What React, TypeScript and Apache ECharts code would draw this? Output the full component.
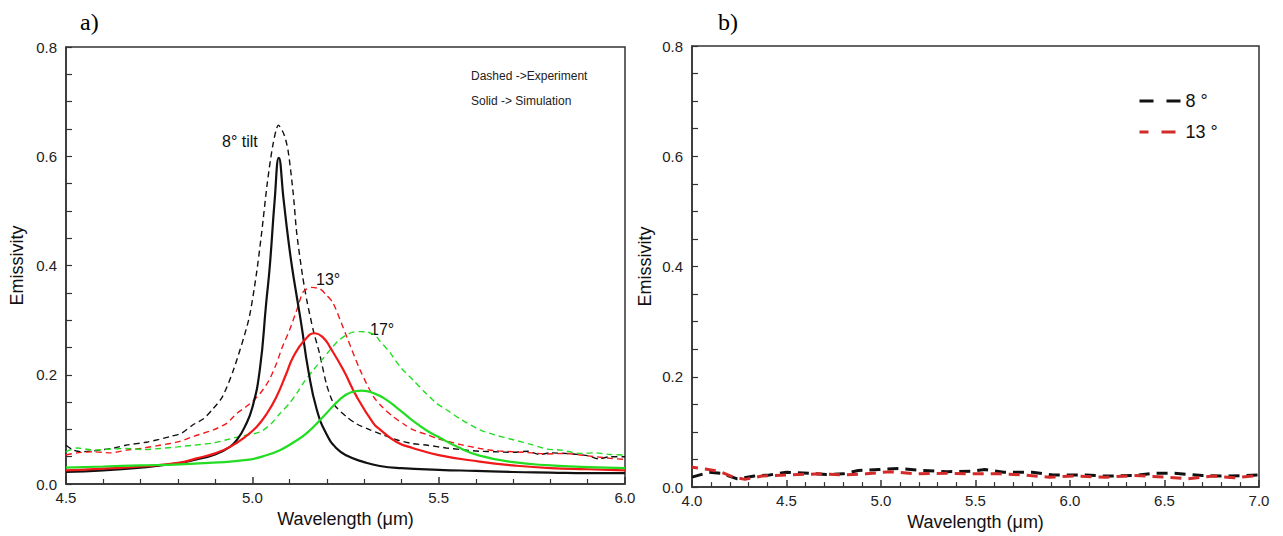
import React, { useEffect, useRef } from "react";
import * as echarts from "echarts";

// ---- Panel a) data (wavelength µm, emissivity) ----
const sim8X = [4.5, 4.6, 4.7, 4.8, 4.85, 4.9, 4.94, 4.96, 4.98, 5.0, 5.02, 5.037, 5.047, 5.06, 5.071, 5.084, 5.096, 5.107, 5.12, 5.132, 5.15, 5.173, 5.2, 5.225, 5.253, 5.3, 5.342, 5.4, 5.5, 5.6, 5.7, 5.8, 5.9, 6.0];
const sim8Y = [0.022, 0.025, 0.03, 0.038, 0.045, 0.054, 0.068, 0.082, 0.105, 0.14, 0.209, 0.33, 0.4, 0.52, 0.597, 0.52, 0.45, 0.395, 0.34, 0.29, 0.209, 0.136, 0.09, 0.066, 0.052, 0.04, 0.033, 0.029, 0.026, 0.024, 0.022, 0.021, 0.02, 0.02];

const sim13X = [4.5, 4.6, 4.7, 4.806, 4.85, 4.9, 4.94, 4.98, 5.012, 5.04, 5.065, 5.09, 5.11, 5.14, 5.168, 5.19, 5.208, 5.244, 5.28, 5.325, 5.342, 5.387, 5.43, 5.5, 5.61, 5.7, 5.8, 5.9, 6.0];
const sim13Y = [0.025, 0.028, 0.032, 0.039, 0.047, 0.056, 0.068, 0.086, 0.105, 0.13, 0.16, 0.2, 0.233, 0.263, 0.276, 0.268, 0.251, 0.209, 0.16, 0.111, 0.1, 0.077, 0.066, 0.053, 0.041, 0.034, 0.029, 0.027, 0.025];

const sim17X = [4.5, 4.6, 4.7, 4.806, 4.895, 4.985, 5.03, 5.074, 5.11, 5.146, 5.19, 5.235, 5.265, 5.293, 5.33, 5.36, 5.4, 5.432, 5.47, 5.5, 5.55, 5.61, 5.7, 5.8, 5.9, 6.0];
const sim17Y = [0.03, 0.032, 0.034, 0.036, 0.039, 0.044, 0.051, 0.062, 0.076, 0.093, 0.123, 0.155, 0.168, 0.171, 0.165, 0.154, 0.133, 0.115, 0.097, 0.086, 0.068, 0.052, 0.04, 0.034, 0.031, 0.029];

const exp8X = [4.5, 4.52, 4.54, 4.59, 4.63, 4.66, 4.72, 4.78, 4.81, 4.84, 4.87, 4.895, 4.92, 4.95, 4.99, 5.01, 5.025, 5.04, 5.055, 5.07, 5.085, 5.096, 5.11, 5.119, 5.135, 5.146, 5.164, 5.18, 5.2, 5.22, 5.253, 5.28, 5.316, 5.35, 5.387, 5.43, 5.47, 5.52, 5.56, 5.61, 5.65, 5.7, 5.74, 5.77, 5.8, 5.86, 5.9, 5.93, 5.96, 6.0];
const exp8Y = [0.071, 0.062, 0.059, 0.062, 0.066, 0.071, 0.077, 0.087, 0.093, 0.108, 0.12, 0.138, 0.16, 0.21, 0.3, 0.38, 0.46, 0.55, 0.62, 0.657, 0.64, 0.61, 0.53, 0.46, 0.38, 0.337, 0.28, 0.24, 0.18, 0.145, 0.123, 0.11, 0.099, 0.09, 0.081, 0.074, 0.071, 0.066, 0.063, 0.06, 0.059, 0.058, 0.06, 0.054, 0.057, 0.055, 0.052, 0.046, 0.05, 0.05];

const exp13X = [4.5, 4.53, 4.573, 4.62, 4.663, 4.71, 4.752, 4.8, 4.842, 4.895, 4.931, 4.958, 4.99, 5.02, 5.045, 5.065, 5.08, 5.1, 5.12, 5.137, 5.16, 5.182, 5.2, 5.217, 5.253, 5.289, 5.325, 5.35, 5.378, 5.41, 5.432, 5.47, 5.494, 5.521, 5.56, 5.611, 5.65, 5.7, 5.75, 5.79, 5.84, 5.88, 5.92, 5.96, 6.0];
const exp13Y = [0.053, 0.057, 0.059, 0.057, 0.062, 0.066, 0.071, 0.077, 0.087, 0.099, 0.111, 0.129, 0.145, 0.165, 0.19, 0.221, 0.25, 0.282, 0.32, 0.352, 0.36, 0.357, 0.345, 0.331, 0.27, 0.209, 0.16, 0.14, 0.123, 0.108, 0.099, 0.09, 0.084, 0.079, 0.072, 0.065, 0.061, 0.059, 0.057, 0.055, 0.056, 0.053, 0.05, 0.047, 0.045];

const exp17X = [4.5, 4.53, 4.573, 4.62, 4.663, 4.71, 4.752, 4.8, 4.842, 4.895, 4.931, 4.967, 5.02, 5.05, 5.074, 5.1, 5.119, 5.14, 5.164, 5.19, 5.208, 5.23, 5.253, 5.27, 5.289, 5.31, 5.33, 5.342, 5.37, 5.396, 5.432, 5.46, 5.494, 5.521, 5.56, 5.611, 5.65, 5.7, 5.75, 5.79, 5.83, 5.88, 5.92, 5.96, 6.0];
const exp17Y = [0.059, 0.066, 0.062, 0.064, 0.065, 0.063, 0.065, 0.068, 0.071, 0.075, 0.081, 0.087, 0.095, 0.11, 0.129, 0.148, 0.166, 0.188, 0.209, 0.23, 0.245, 0.262, 0.273, 0.278, 0.279, 0.278, 0.272, 0.262, 0.24, 0.215, 0.19, 0.17, 0.148, 0.136, 0.118, 0.099, 0.09, 0.081, 0.072, 0.064, 0.062, 0.056, 0.057, 0.054, 0.053];

// ---- Panel b) data ----
const b8X = [4.0, 4.09, 4.15, 4.24, 4.33, 4.41, 4.5, 4.62, 4.71, 4.8, 4.88, 4.99, 5.1, 5.22, 5.35, 5.48, 5.55, 5.65, 5.8, 5.91, 6.08, 6.19, 6.34, 6.44, 6.55, 6.7, 6.83, 7.0];
const b8Y = [0.018, 0.027, 0.025, 0.015, 0.02, 0.022, 0.027, 0.025, 0.023, 0.024, 0.03, 0.032, 0.034, 0.03, 0.028, 0.029, 0.032, 0.027, 0.027, 0.022, 0.022, 0.02, 0.021, 0.025, 0.025, 0.021, 0.02, 0.022];
const b13X = [4.0, 4.07, 4.15, 4.22, 4.28, 4.37, 4.5, 4.67, 4.8, 4.92, 5.05, 5.18, 5.35, 5.48, 5.63, 5.76, 5.89, 6.02, 6.19, 6.34, 6.51, 6.62, 6.76, 6.87, 7.0];
const b13Y = [0.036, 0.033, 0.028, 0.018, 0.014, 0.02, 0.022, 0.024, 0.022, 0.024, 0.028, 0.024, 0.025, 0.024, 0.024, 0.022, 0.018, 0.02, 0.018, 0.021, 0.018, 0.015, 0.02, 0.017, 0.021];

const yTicks = [0.0, 0.2, 0.4, 0.6, 0.8];

const pairs = (xs: number[], ys: number[]) => xs.map((x, i) => [x, ys[i]]);

const BLACK = "#111111";
const RED = "#f01818";
const GREEN = "#22dd22";
const RED_B = "#d42a2a";

export default function App() {
  const ref = useRef<HTMLDivElement>(null);
  useEffect(() => {
    if (!ref.current) return;
    const chart = echarts.init(ref.current, undefined, { renderer: "svg" });
    const axisFont = { fontFamily: "Liberation Sans, Arial, sans-serif", fontSize: 15, color: "#222" };
    const nameFont = { fontFamily: "Liberation Sans, Arial, sans-serif", fontSize: 18, color: "#111" };
    const xAxisBase = (min: number, max: number, gi: number, margin: number, gap: number) => ({
      type: "value",
      gridIndex: gi,
      min,
      max,
      interval: 0.5,
      name: "Wavelength (μm)",
      nameLocation: "middle",
      nameGap: gap,
      nameTextStyle: nameFont,
      axisLine: { show: true, lineStyle: { color: "#333", width: 1.5 } },
      axisTick: { show: true, inside: true, length: 7, lineStyle: { color: "#333", width: 1.5 } },
      minorTick: { show: true, splitNumber: 5, length: 5, lineStyle: { color: "#333", width: 1.2 } },
      splitLine: { show: false },
      axisLabel: { ...axisFont, margin, formatter: (v: number) => v.toFixed(1) },
    });
    const yAxisBase = (gi: number, gap: number) => ({
      type: "value",
      gridIndex: gi,
      min: 0,
      max: 0.8,
      interval: 0.2,
      name: "Emissivity",
      nameLocation: "middle",
      nameGap: gap,
      nameTextStyle: nameFont,
      axisLine: { show: true, lineStyle: { color: "#333", width: 1.5 } },
      axisTick: { show: true, inside: true, length: 6, lineStyle: { color: "#333", width: 1.2 } },
      minorTick: { show: true, splitNumber: 4, length: 6, lineStyle: { color: "#333", width: 1.2 } },
      splitLine: { show: false },
      axisLabel: {
        ...axisFont,
        margin: 9,
        customValues: yTicks,
        formatter: (v: number) => v.toFixed(1),
      },
    });
    const lineSeries = (name: string, xs: number[], ys: number[], color: string, dashed: boolean, gi: number, width = 2) => ({
      type: "line",
      name,
      xAxisIndex: gi,
      yAxisIndex: gi,
      data: pairs(xs, ys),
      showSymbol: false,
      symbol: "none",
      smooth: dashed ? 0.25 : 0.5,
      lineStyle: { color, width, type: dashed ? [6, 4] : "solid" },
      itemStyle: { color },
      z: dashed ? 2 : 3,
    });
    const option: any = {
      animation: false,
      backgroundColor: "#ffffff",
      grid: [
        { left: 66, top: 47, width: 559, height: 437, show: true, borderColor: "#333", borderWidth: 1.5, containLabel: false },
        { left: 692, top: 46, width: 567, height: 442, show: true, borderColor: "#333", borderWidth: 1.5, containLabel: false },
      ],
      xAxis: [xAxisBase(4.5, 6.0, 0, 6, 25), xAxisBase(4.0, 7.0, 1, 6, 25)],
      yAxis: [yAxisBase(0, 40), yAxisBase(1, 38)],
      legend: {
        data: ["8 °", "13 °"],
        orient: "vertical",
        left: 1133,
        top: 87,
        itemWidth: 41,
        itemHeight: 12,
        itemGap: 13,
        itemStyle: { opacity: 0 },
        lineStyle: { type: [14, 13], width: 3, opacity: 1 },
        textStyle: { fontFamily: "Liberation Sans, Arial, sans-serif", fontSize: 18, color: "#111" },
      },
      series: [
        lineSeries("exp8", exp8X, exp8Y, BLACK, true, 0, 1.4),
        lineSeries("exp13", exp13X, exp13Y, RED, true, 0, 1.4),
        lineSeries("exp17", exp17X, exp17Y, GREEN, true, 0, 1.4),
        lineSeries("sim8", sim8X, sim8Y, BLACK, false, 0, 2.2),
        lineSeries("sim13", sim13X, sim13Y, RED, false, 0, 2.2),
        lineSeries("sim17", sim17X, sim17Y, GREEN, false, 0, 2.2),
        {
          ...lineSeries("8 °", b8X, b8Y, BLACK, true, 1, 3),
          smooth: false,
          lineStyle: { color: BLACK, width: 3, type: [11, 7] },
        },
        {
          ...lineSeries("13 °", b13X, b13Y, RED_B, true, 1, 3),
          smooth: false,
          lineStyle: { color: RED_B, width: 3, type: [11, 7], dashOffset: 5 },
        },
      ],
      graphic: [
        { type: "text", left: 80, top: 10, style: { text: "a)", font: "24px 'Liberation Serif', 'Times New Roman', serif", fill: "#000" } },
        { type: "text", left: 718, top: 10, style: { text: "b)", font: "24px 'Liberation Serif', 'Times New Roman', serif", fill: "#000" } },
        { type: "text", left: 222, top: 133, style: { text: "8° tilt", font: "16px 'Liberation Sans', Arial, sans-serif", fill: "#111" } },
        { type: "text", left: 316, top: 271, style: { text: "13°", font: "16px 'Liberation Sans', Arial, sans-serif", fill: "#111" } },
        { type: "text", left: 370, top: 321, style: { text: "17°", font: "16px 'Liberation Sans', Arial, sans-serif", fill: "#111" } },
        { type: "text", left: 471, top: 70, style: { text: "Dashed ->Experiment", font: "12px 'Liberation Sans', Arial, sans-serif", fill: "#222" } },
        { type: "text", left: 471, top: 95, style: { text: "Solid -> Simulation", font: "12px 'Liberation Sans', Arial, sans-serif", fill: "#222" } },
      ],
    };
    chart.setOption(option);
    return () => chart.dispose();
  }, []);
  return (
    <div
      ref={ref}
      style={{ position: "absolute", left: 0, top: 0, width: 1283, height: 536, background: "#fff" }}
    />
  );
}
